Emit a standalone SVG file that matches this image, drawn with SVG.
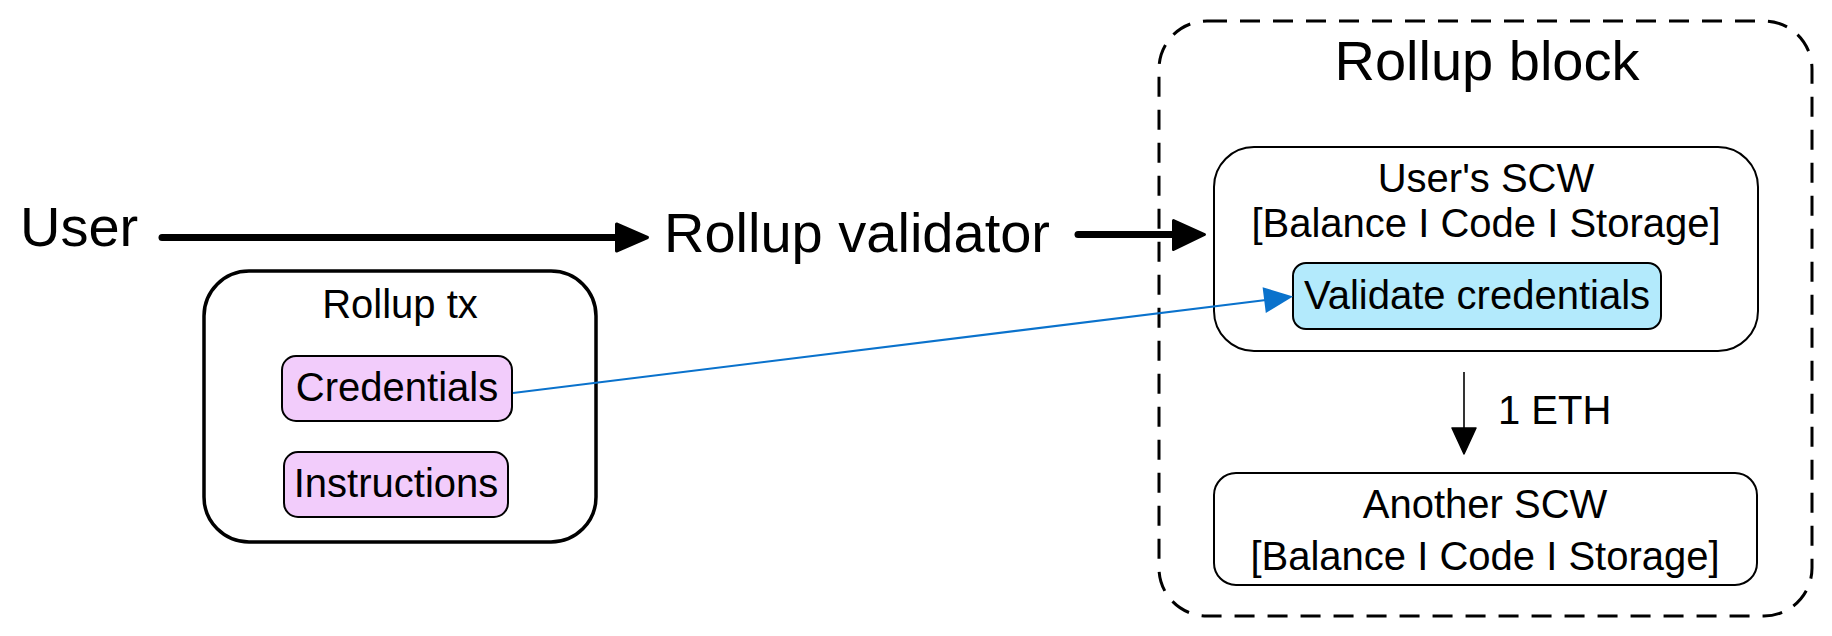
<svg xmlns="http://www.w3.org/2000/svg" width="1832" height="636" viewBox="0 0 1832 636">
  <style>
    text { font-family: "Liberation Sans", Arial, Helvetica, sans-serif; fill: #000; }
    .big { font-size: 56px; }
    .mid { font-size: 40px; }
    .c { text-anchor: middle; }
    .box { fill: #fff; stroke: #000; stroke-width: 2; }
    .pill-p { fill: #F2CCFB; stroke: #000; stroke-width: 2; }
    .pill-b { fill: #B3EAFC; stroke: #000; stroke-width: 2; }
    .thick { stroke: #000; stroke-width: 7; stroke-linecap: round; fill: none; }
    .head { fill: #000; stroke: #000; stroke-width: 3; stroke-linejoin: round; }
    .blue { stroke: #0A72CC; stroke-width: 2; fill: none; }
    .bhead { fill: #0A72CC; stroke: none; }
    .thin { stroke: #000; stroke-width: 1.6; fill: none; }
  </style>
  <rect width="1832" height="636" fill="#fff"/>

  <g id="rollup-block">
    <rect x="1159" y="21" width="653" height="595" rx="48" ry="48" fill="none" stroke="#000" stroke-width="3" stroke-dasharray="20 13"/>
    <text class="big c" x="1487" y="80">Rollup block</text>
  </g>

  <g id="user">
    <text class="big" x="20" y="246">User</text>
  </g>

  <g id="rollup-validator">
    <text class="big" x="664" y="252">Rollup validator</text>
  </g>

  <g id="rollup-tx">
    <rect x="204" y="271" width="392" height="271" rx="45" ry="45" fill="#fff" stroke="#000" stroke-width="3.5"/>
    <text class="mid c" x="400" y="318">Rollup tx</text>
  </g>

  <g id="credentials">
    <rect class="pill-p" x="282" y="356" width="230" height="65" rx="14" ry="14"/>
    <text class="mid c" x="397" y="401">Credentials</text>
  </g>

  <g id="instructions">
    <rect class="pill-p" x="284" y="452" width="224" height="65" rx="14" ry="14"/>
    <text class="mid c" x="396" y="497">Instructions</text>
  </g>

  <g id="users-scw">
    <rect class="box" x="1214" y="147" width="544" height="204" rx="40" ry="40"/>
    <text class="mid c" x="1486" y="192">User's SCW</text>
    <text class="mid c" x="1486" y="237">[Balance I Code I Storage]</text>
  </g>

  <g id="validate-credentials">
    <rect class="pill-b" x="1293" y="263" width="368" height="66" rx="13" ry="13"/>
    <text class="mid c" x="1477" y="309">Validate credentials</text>
  </g>

  <g id="another-scw">
    <rect class="box" x="1214" y="473" width="543" height="112" rx="22" ry="22"/>
    <text class="mid c" x="1485" y="518">Another SCW</text>
    <text class="mid c" x="1485" y="570">[Balance I Code I Storage]</text>
  </g>

  <g id="connectors">
    <line class="thick" x1="162" y1="237.5" x2="617" y2="237.5"/>
    <polygon class="head" points="616.5,224 647.5,237.5 616.5,251"/>

    <line class="thick" x1="1078" y1="234.5" x2="1174" y2="234.5"/>
    <polygon class="head" points="1173.5,220.5 1204.5,234.5 1173.5,249.5"/>

    <line class="blue" x1="513" y1="393" x2="1266" y2="300"/>
    <polygon class="bhead" points="1293,296.5 1265.8,313 1262.6,287.2"/>

    <line class="thin" x1="1464" y1="372" x2="1464" y2="430"/>
    <polygon class="head" points="1452,428 1476,428 1464,454" style="stroke-width:1.5"/>
    <text class="mid" x="1498" y="424">1 ETH</text>
  </g>
</svg>
